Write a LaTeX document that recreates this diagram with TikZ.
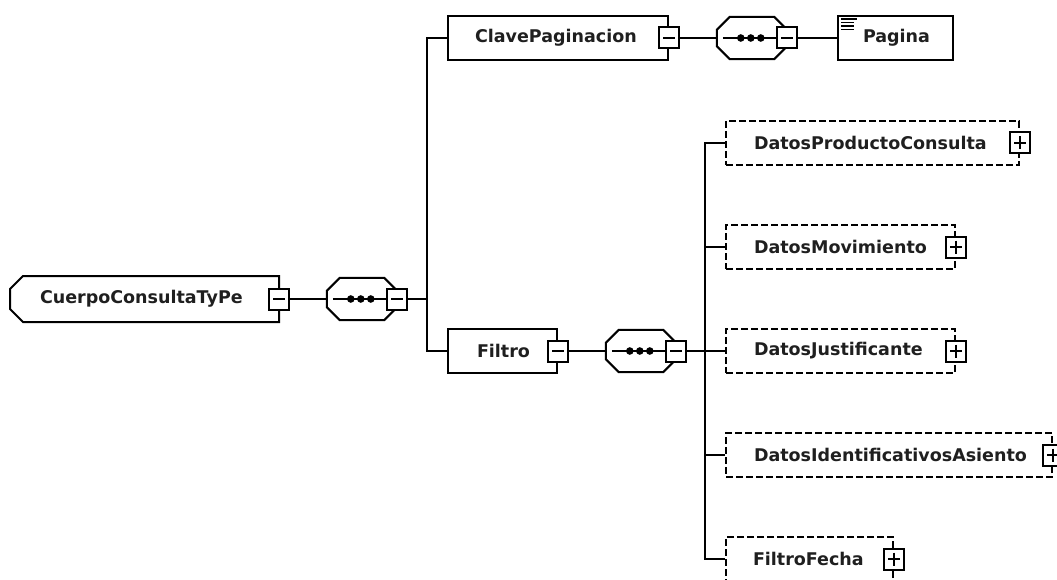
\documentclass[tikz,border=0pt]{standalone}
\usepackage{fontspec}
\setmainfont{DejaVu Sans}
\newcommand\seqshape[1]{%
  \draw[ln] ([xshift=13pt]#1.north west) -- ([xshift=-13pt]#1.north east) -- ([yshift=-13pt]#1.north east) -- ([yshift=13pt]#1.south east) -- ([xshift=-13pt]#1.south east) -- ([xshift=13pt]#1.south west) -- ([yshift=13pt]#1.south west) -- ([yshift=-13pt]#1.north west) -- cycle;
  \draw[ln] ([xshift=6pt]#1.west) -- (#1.east);
  \foreach \d in {24,34,44} \fill ([xshift=\d pt]#1.west) circle (3.8pt);
  \node[minusbox] (#1-m) at (#1.east) {};
}
\begin{document}
\begin{tikzpicture}[x=1pt,y=-1pt,
  ln/.style={draw=black, line width=2pt},
  elem/.style={ln, fill=white, minimum height=44pt, inner xsep=27pt, inner ysep=0pt, align=left,
    font=\bfseries\fontsize{17.5}{21}\selectfont, text=black!88, anchor=west},
  opt/.style={elem, dash pattern=on 7pt off 3pt},
  seq/.style={draw=none, minimum width=70pt, minimum height=42pt, inner sep=0pt},
  pmbox/.style={draw=black, line width=2pt, fill=white, minimum width=20pt, minimum height=21pt, inner sep=0pt},
  minusbox/.style={pmbox, path picture={\draw[line width=1.6pt] ([xshift=4pt]path picture bounding box.west) -- ([xshift=-4pt]path picture bounding box.east);}},
  plusbox/.style={pmbox, path picture={\draw[line width=1.6pt] ([xshift=4pt]path picture bounding box.west) -- ([xshift=-4pt]path picture bounding box.east) ([yshift=-4pt]path picture bounding box.north) -- ([yshift=4pt]path picture bounding box.south);}},
]
\useasboundingbox[fill=white] (0,0) rectangle (1057,580);

% root element
\node[elem, draw=none, fill=none, inner xsep=29pt, text width=209pt] (root) at (10,299) {CuerpoConsultaTyPe};
\draw[ln] ([xshift=13pt]root.north west) -- (root.north east) -- (root.south east) -- ([xshift=13pt]root.south west) -- ([yshift=13pt]root.south west) -- ([yshift=-13pt]root.north west) -- cycle;
\node[minusbox] (root-m) at (root.east) {};

% first sequence
\node[seq] (s1) at (362,299) {};
\seqshape{s1}

% ClavePaginacion branch
\node[elem, text width=166pt] (clave) at (447,38) {ClavePaginacion};
\node[minusbox] (clave-m) at (clave.east) {};
\node[seq] (s3) at (752,38) {};
\seqshape{s3}
\node[elem, inner xsep=25pt, text width=65pt] (pag) at (837,38) {Pagina};
\draw[line width=1.3pt] ([xshift=4pt,yshift=-4pt]pag.north west) -- ++(16,0);
\foreach \k in {1,2,3}
  \draw[line width=1.3pt] ([xshift=4pt,yshift=-4pt-3.5*\k pt]pag.north west) -- ++(13,0);

% Filtro branch
\node[elem, inner xsep=29pt, text width=51pt] (filtro) at (447,351) {Filtro};
\node[minusbox] (filtro-m) at (filtro.east) {};
\node[seq] (s2) at (641,351) {};
\seqshape{s2}

% Filtro children
\node[opt, inner xsep=28pt, text width=237pt] (dpc) at (725,143) {DatosProductoConsulta};
\node[plusbox] (dpc-p) at (dpc.east) {};
\node[opt, inner xsep=28pt, text width=173pt] (dm) at (725,247) {DatosMovimiento};
\node[plusbox] (dm-p) at (dm.east) {};
\node[opt, inner xsep=28pt, text width=173pt] (dj) at (725,351) {DatosJustificante};
\node[plusbox] (dj-p) at (dj.east) {};
\node[opt, inner xsep=28pt, text width=270pt] (dia) at (725,455) {DatosIdentificativosAsiento};
\node[plusbox] (dia-p) at (dia.east) {};
\node[opt, inner xsep=27pt, text width=113pt] (ff) at (725,559) {FiltroFecha};
\node[plusbox] (ff-p) at (ff.east) {};

% connectors
\coordinate (j1) at (427,299);
\draw[ln] (root-m.east) -- (s1.west);
\draw[ln] (s1-m.east) -- (j1);
\draw[ln] (clave.west) -- ++(-20,0) |- (filtro.west);
\draw[ln] (clave-m.east) -- (s3.west);
\draw[ln] (s3-m.east) -- (pag.west);
\draw[ln] (filtro-m.east) -- (s2.west);
\draw[ln] (dpc.west) -- ++(-20,0) |- (ff.west);
\draw[ln] (dm.west) -- ++(-20,0);
\draw[ln] (s2-m.east) -- (dj.west);
\draw[ln] (dia.west) -- ++(-20,0);
\end{tikzpicture}
\end{document}
